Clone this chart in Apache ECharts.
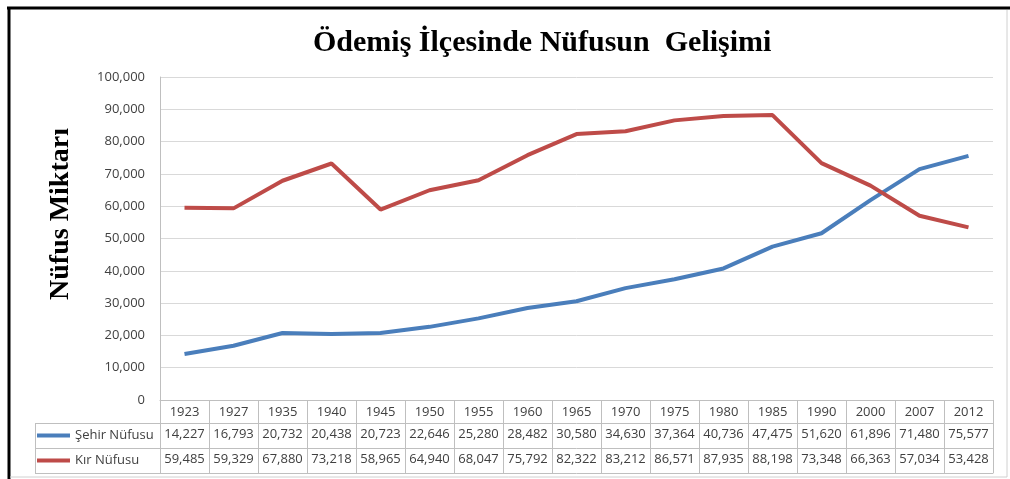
<!DOCTYPE html>
<html>
<head>
<meta charset="utf-8">
<script src="https://cdn.jsdelivr.net/npm/echarts@6/dist/echarts.min.js"></script>
<style>
  html, body { margin: 0; padding: 0; background: #fff; }
  #chart { width: 1010px; height: 479px; }
</style>
</head>
<body>
<div id="chart"></div>
<script>
const years = ['1923','1927','1935','1940','1945','1950','1955','1960','1965','1970','1975','1980','1985','1990','2000','2007','2012']
const sehir = [14227,16793,20732,20438,20723,22646,25280,28482,30580,34630,37364,40736,47475,51620,61896,71480,75577]
const kir = [59485,59329,67880,73218,58965,64940,68047,75792,82322,83212,86571,87935,88198,73348,66363,57034,53428]
const yTicks = { min: 0, max: 100000, interval: 10000 }

const fmt = v => String(v).replace(/\B(?=(\d{3})+(?!\d))/g, ',')
const gray = '#bfbfbf'
const txt = '#404040'
const font = 'Open Sans'

const chart = echarts.init(document.getElementById('chart'))

const tableAxis = (offset, values) => ({
  type: 'category',
  data: years,
  position: 'bottom',
  offset: offset,
  boundaryGap: true,
  axisLine: { show: true, lineStyle: { color: gray, width: 1 } },
  axisTick: { show: false },
  axisLabel: values ? {
    interval: 0, margin: 5, fontSize: 13, color: txt, fontFamily: font,
    formatter: (v, i) => fmt(values[i])
  } : { show: false }
})

const option = {
  animation: false,
  backgroundColor: '#fff',
  title: {
    text: 'Ödemiş İlçesinde Nüfusun  Gelişimi',
    left: 308,
    top: 23,
    textStyle: { fontFamily: 'Liberation Serif', fontWeight: 'bold', fontSize: 30, color: '#000' }
  },
  legend: {
    data: ['Şehir Nüfusu', 'Kır Nüfusu'],
    orient: 'vertical',
    left: 37,
    top: 423,
    padding: 0,
    itemGap: 0,
    itemWidth: 33,
    itemHeight: 4,
    icon: 'rect',
    textStyle: { fontSize: 13, lineHeight: 25, color: txt, fontFamily: font }
  },
  grid: { left: 160, right: 17, top: 77, bottom: 79 },
  xAxis: [
    {
      type: 'category',
      data: years,
      boundaryGap: true,
      axisLine: { lineStyle: { color: gray } },
      axisTick: { show: true, interval: 0, length: 73, lineStyle: { color: gray } },
      axisLabel: { interval: 0, margin: 6, fontSize: 13, color: txt, fontFamily: font }
    },
    tableAxis(23, sehir),
    tableAxis(48, kir),
    tableAxis(73, null)
  ],
  yAxis: {
    type: 'value',
    min: yTicks.min,
    max: yTicks.max,
    interval: yTicks.interval,
    axisLine: { show: true, lineStyle: { color: gray } },
    axisTick: { show: false },
    splitLine: { lineStyle: { color: '#d9d9d9' } },
    axisLabel: { margin: 15, fontSize: 13, color: txt, fontFamily: font, formatter: v => fmt(v) }
  },
  series: [
    {
      name: 'Şehir Nüfusu',
      type: 'line',
      data: sehir,
      symbol: 'none',
      lineStyle: { width: 4, color: '#4a7ebb' },
      itemStyle: { color: '#4a7ebb' }
    },
    {
      name: 'Kır Nüfusu',
      type: 'line',
      data: kir,
      symbol: 'none',
      lineStyle: { width: 4, color: '#be4b48' },
      itemStyle: { color: '#be4b48' }
    }
  ],
  graphic: [
    // frame of the picture
    { type: 'line', shape: { x1: 7, y1: 8, x2: 1010, y2: 8 }, style: { stroke: '#000', lineWidth: 3 } },
    { type: 'line', shape: { x1: 9, y1: 7, x2: 9, y2: 479 }, style: { stroke: '#000', lineWidth: 3 } },
    { type: 'line', shape: { x1: 1007, y1: 10, x2: 1007, y2: 477 }, style: { stroke: '#d0d0d0', lineWidth: 1 } },
    { type: 'line', shape: { x1: 10, y1: 477, x2: 1007, y2: 477 }, style: { stroke: '#d0d0d0', lineWidth: 1 } },
    // row header cells of the table
    { type: 'line', shape: { x1: 35, y1: 423.5, x2: 160, y2: 423.5 }, style: { stroke: gray, lineWidth: 1 } },
    { type: 'line', shape: { x1: 35, y1: 448.5, x2: 160, y2: 448.5 }, style: { stroke: gray, lineWidth: 1 } },
    { type: 'line', shape: { x1: 35, y1: 473.5, x2: 160, y2: 473.5 }, style: { stroke: gray, lineWidth: 1 } },
    { type: 'line', shape: { x1: 35.5, y1: 423, x2: 35.5, y2: 474 }, style: { stroke: gray, lineWidth: 1 } },
    // y axis name
    {
      type: 'text',
      x: 61, y: 214,
      rotation: Math.PI / 2,
      style: {
        text: 'Nüfus Miktarı',
        font: 'bold 28px "Liberation Serif"',
        fill: '#000',
        textAlign: 'center',
        textVerticalAlign: 'middle'
      }
    }
  ]
}

chart.setOption(option)
</script>
</body>
</html>
